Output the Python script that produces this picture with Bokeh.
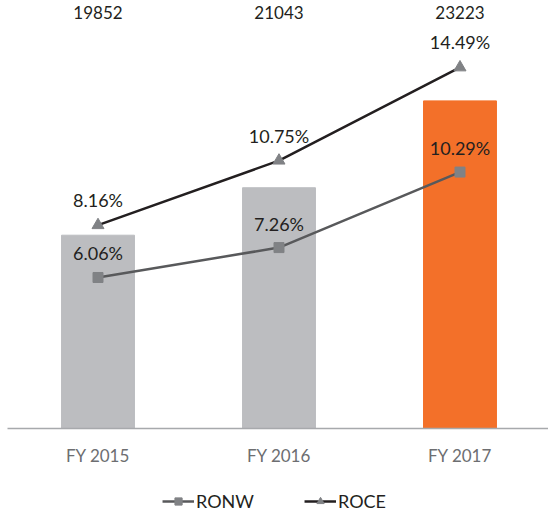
from bokeh.plotting import figure
from bokeh.models import (Range1d, FixedTicker, Legend, LegendItem,
                          ColumnDataSource)
from bokeh.core.properties import value
from bokeh.embed import file_html
from bokeh.resources import INLINE

# ---- data ----
categories = ["FY 2015", "FY 2016", "FY 2017"]
revenue = [19852, 21043, 23223]
ronw = [6.06, 7.26, 10.29]
roce = [8.16, 10.75, 14.49]

# ---- styles ----
bar_colors = ["#bcbdc0", "#bcbdc0", "#f37029"]
FONT = "Lato"

xs = list(range(len(categories)))
BASE = 15000          # bar baseline value
UPP = 25.1            # bar units per pixel
PPP = 1 / 24.92       # percent per pixel
ABOVE, BELOW = 428, 85
Y0, Y1 = BASE - BELOW * UPP, BASE + ABOVE * UPP
P0, P1 = -BELOW * PPP, ABOVE * PPP

p = figure(width=548, height=513, output_backend="svg", toolbar_location=None,
           x_range=Range1d(-0.5387, 2.489), y_range=Range1d(Y0, Y1),
           min_border=0, background_fill_color="white")
p.outline_line_color = None
p.grid.visible = False
p.yaxis.visible = False
p.extra_y_ranges = {"pct": Range1d(P0, P1)}

src = ColumnDataSource(dict(x=xs, rev=revenue, color=bar_colors,
                            rev_txt=[str(v) for v in revenue],
                            top=[Y1] * len(xs),
                            ronw=ronw, roce=roce,
                            ronw_txt=["%.2f%%" % v for v in ronw],
                            roce_txt=["%.2f%%" % v for v in roce]))

p.vbar(x="x", top="rev", bottom=BASE, width=0.403, color="color", source=src)

roce_line = p.line("x", "roce", source=src, y_range_name="pct",
                   line_color="#231f20", line_width=2.5)
roce_mk = p.scatter("x", "roce", source=src, y_range_name="pct", marker="triangle",
                    size=12, color="#808285")
ronw_line = p.line("x", "ronw", source=src, y_range_name="pct",
                   line_color="#58595b", line_width=2.5)
ronw_mk = p.scatter("x", "ronw", source=src, y_range_name="pct", marker="square",
                    size=10, color="#808285")

p.text("x", "top", text="rev_txt", source=src, text_font=value(FONT),
       text_font_size="17px", text_color="#231f20", text_align="center",
       text_baseline="middle", y_offset=12)
p.text("x", "roce", text="roce_txt", source=src, y_range_name="pct",
       text_font=value(FONT), text_font_size="18px", text_color="#231f20",
       text_align="center", text_baseline="middle", y_offset=-25)
p.text("x", "ronw", text="ronw_txt", source=src, y_range_name="pct",
       text_font=value(FONT), text_font_size="18px", text_color="#231f20",
       text_align="center", text_baseline="middle", y_offset=-24)

ax = p.xaxis[0]
ax.fixed_location = BASE
ax.bounds = (-0.5, 2.6)
ax.ticker = FixedTicker(ticks=xs)
ax.major_label_overrides = {i: c for i, c in zip(xs, categories)}
ax.axis_line_color = "#a7a9ac"
ax.axis_line_width = 1.5
ax.major_tick_line_color = None
ax.minor_tick_line_color = None
ax.major_label_standoff = 10
ax.major_label_text_font = FONT
ax.major_label_text_font_size = "17px"
ax.major_label_text_color = "#6d6e71"

legend = Legend(items=[LegendItem(label="RONW", renderers=[ronw_line, ronw_mk]),
                       LegendItem(label="ROCE", renderers=[roce_line, roce_mk])],
                orientation="horizontal", location="bottom_center",
                glyph_width=32, glyph_height=18, label_standoff=2, spacing=50,
                padding=0, margin=1, border_line_color=None,
                background_fill_alpha=0,
                label_text_font=FONT, label_text_font_size="18px",
                label_text_color="#231f20")
p.add_layout(legend)

open("out.html", "w").write(file_html(p, INLINE))
